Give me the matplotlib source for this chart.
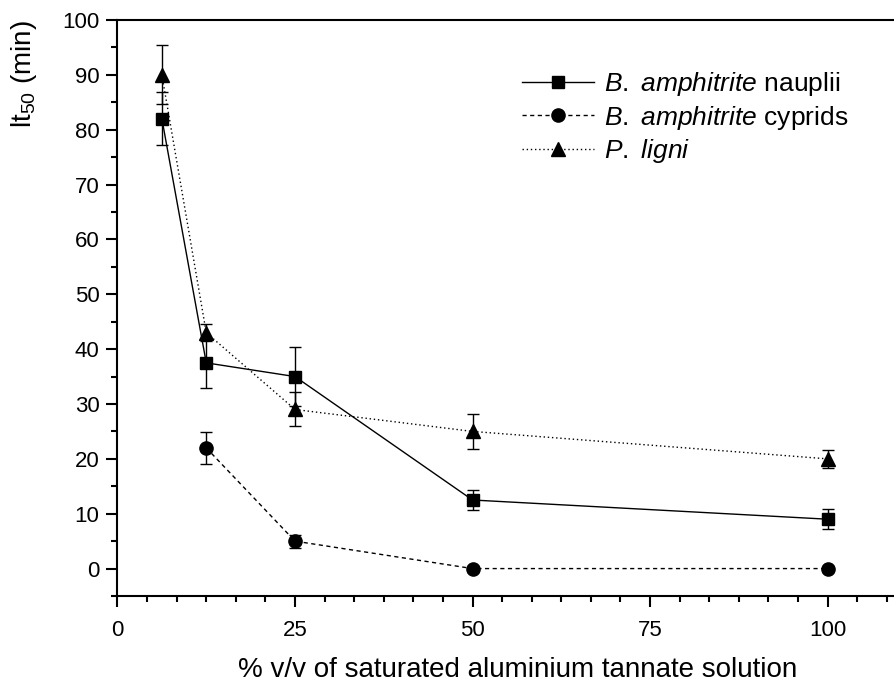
import matplotlib
matplotlib.use("Agg")
import matplotlib.pyplot as plt
from matplotlib.ticker import MultipleLocator

plt.rcParams['font.family'] = ['Liberation Sans', 'DejaVu Sans']
plt.rcParams['mathtext.fontset'] = 'custom'
plt.rcParams['mathtext.rm'] = 'Liberation Sans'
plt.rcParams['mathtext.it'] = 'Liberation Sans:italic'

# Data
conc_nauplii = [6.25, 12.5, 25, 50, 100]
lt_nauplii = [82, 37.5, 35, 12.5, 9]
err_nauplii = [4.8, 4.5, 5.3, 1.8, 1.8]

conc_cyprids = [12.5, 25, 50, 100]
lt_cyprids = [22, 5, 0, 0]
err_cyprids = [2.9, 1.2, 0, 0]

conc_ligni = [6.25, 12.5, 25, 50, 100]
lt_ligni = [90, 43, 29, 25, 20]
err_ligni = [5.4, 1.5, 3.1, 3.2, 1.7]

labels = [r'$\it{B.\ amphitrite}$ nauplii',
          r'$\it{B.\ amphitrite}$ cyprids',
          r'$\it{P.\ ligni}$']

fig = plt.figure(figsize=(8.95, 6.85), dpi=100)
ax = fig.add_axes([117.5/895, 1-596/685, 1-117.5/895, (596-20)/685])

common = dict(color='black', ecolor='black', elinewidth=1.0, capsize=4.3, capthick=1.0)
c1 = ax.errorbar(conc_nauplii, lt_nauplii, yerr=err_nauplii, linestyle='-', lw=1.0,
                 marker='s', ms=9, **common)
c2 = ax.errorbar(conc_cyprids, lt_cyprids, yerr=err_cyprids, linestyle=(0, (3, 2.5)), lw=1.0,
                 marker='o', ms=9.5, **common)
c3 = ax.errorbar(conc_ligni, lt_ligni, yerr=err_ligni, linestyle=(0, (1, 2)), lw=1.0,
                 marker='^', ms=10.5, **common)

ax.set_xlim(0, 109.5)
ax.set_ylim(-5, 100)
ax.xaxis.set_major_locator(MultipleLocator(25))
ax.xaxis.set_minor_locator(MultipleLocator(25/6))
ax.yaxis.set_major_locator(MultipleLocator(10))
ax.yaxis.set_minor_locator(MultipleLocator(5))

for s in ['left', 'bottom', 'top']:
    ax.spines[s].set_linewidth(1.5)
ax.spines['right'].set_visible(False)
ax.tick_params(which='major', direction='out', length=8, width=1.5, labelsize=16, pad=5)
ax.tick_params(axis='x', which='major', pad=9)
ax.tick_params(which='minor', direction='out', length=4.5, width=1.5)
ax.tick_params(top=False, right=False, which='both')

ax.set_xlabel('% v/v of saturated aluminium tannate solution', fontsize=20)
ax.xaxis.label.set_va('baseline')
ax.xaxis.set_label_coords((518-117.5)/(895-117.5), -(677-596)/576)
ax.set_ylabel(r'lt$_{50}$ (min)', fontsize=20, loc='top')
ax.yaxis.set_label_coords(-(117.5-39)/777.5, 1.0)

ax.legend(handles=[c1[0], c2[0], c3[0]], labels=labels, loc='upper left',
          bbox_to_anchor=((517-117.5)/777.5, 1-(65-20)/576), frameon=False, fontsize=19,
          handlelength=2.7, handletextpad=0.4, labelspacing=0.2, borderpad=0.2,
          borderaxespad=0)

fig.savefig('out.png', dpi=100)
